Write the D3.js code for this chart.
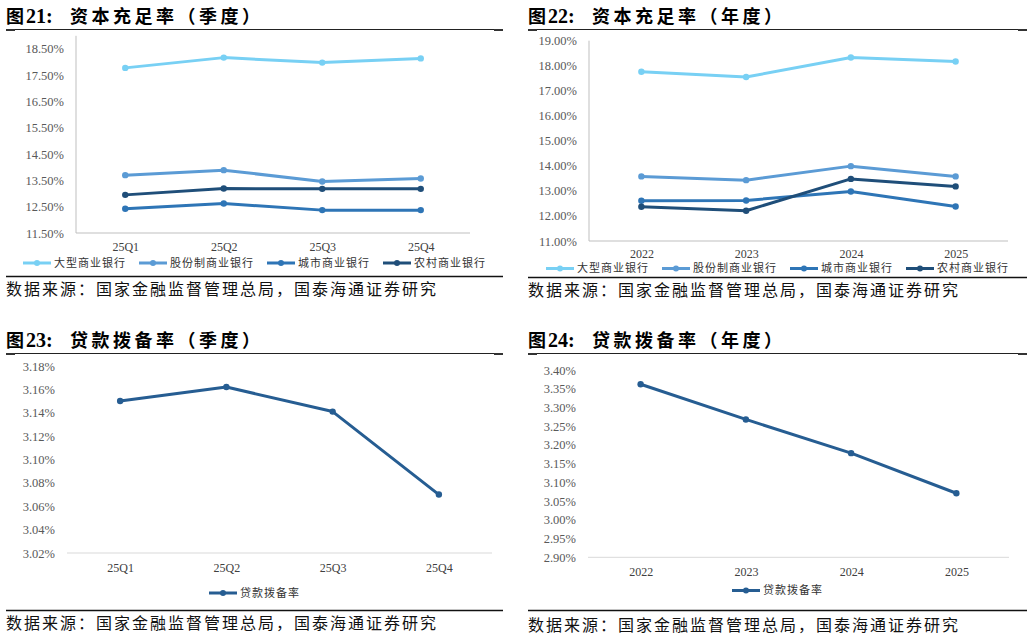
<!DOCTYPE html>
<html>
<head>
<meta charset="utf-8">
<style>
  body { margin: 0; background: #ffffff; }
  text { font-family: "Liberation Serif", "Times New Roman", serif; }
  .cn { font-family: "Noto Sans CJK SC", sans-serif; }
</style>
</head>
<body>
<svg id="workspace"></svg>

<script src="https://d3js.org/d3.v7.min.js"></script>
<script>
  const WIDTH = 1032
  const HEIGHT = 636

  // chart data
  const QUARTERS = ['25Q1', '25Q2', '25Q3', '25Q4']
  const YEARS = ['2022', '2023', '2024', '2025']
  const BANK_NAMES = ['大型商业银行', '股份制商业银行', '城市商业银行', '农村商业银行']
  const BANK_COLORS = ['#78d0f4', '#5b9bd5', '#2e75b6', '#1f4e79']

  const CAR_QUARTER_BIG = [17.78, 18.17, 17.98, 18.14]
  const CAR_QUARTER_JOINT = [13.70, 13.89, 13.46, 13.57]
  const CAR_QUARTER_CITY = [12.42, 12.62, 12.37, 12.37]
  const CAR_QUARTER_RURAL = [12.95, 13.19, 13.18, 13.18]

  const CAR_YEAR_BIG = [17.76, 17.55, 18.33, 18.17]
  const CAR_YEAR_JOINT = [13.58, 13.43, 13.99, 13.58]
  const CAR_YEAR_CITY = [12.61, 12.62, 12.98, 12.38]
  const CAR_YEAR_RURAL = [12.37, 12.21, 13.48, 13.18]

  const PROV_QUARTER = [3.15, 3.162, 3.141, 3.07]
  const PROV_YEAR = [3.362, 3.268, 3.178, 3.071]
  const PROV_NAME = '贷款拨备率'
  const PROV_COLOR = '#265d92'

  const TICKS_CAR_QUARTER = [11.5, 12.5, 13.5, 14.5, 15.5, 16.5, 17.5, 18.5]
  const TICKS_CAR_YEAR = [11, 12, 13, 14, 15, 16, 17, 18, 19]
  const TICKS_PROV_QUARTER = [3.02, 3.04, 3.06, 3.08, 3.10, 3.12, 3.14, 3.16, 3.18]
  const TICKS_PROV_YEAR = [2.90, 2.95, 3.00, 3.05, 3.10, 3.15, 3.20, 3.25, 3.30, 3.35, 3.40]

  const SOURCE = '数据来源：国家金融监督管理总局，国泰海通证券研究'

  let svg = d3.select('#workspace')
    .attr('width', WIDTH)
    .attr('height', HEIGHT)

  // panel 21
  drawPanel({
    left: 6, right: 503, titleY: 23, ruleY: 29.5,
    num: '21:', title: '资本充足率（季度）',
    plot: [76, 470, 35.8, 233], domain: [11.5, 19], ticks: TICKS_CAR_QUARTER,
    yAxisLine: true, cats: QUARTERS,
    series: [CAR_QUARTER_BIG, CAR_QUARTER_JOINT, CAR_QUARTER_CITY, CAR_QUARTER_RURAL],
    names: BANK_NAMES, colors: BANK_COLORS,
    xLabelY: 247, legendY: 263, bottomY: 276.5, sourceY: 289
  })

  // panel 22
  drawPanel({
    left: 528, right: 1027, titleY: 23, ruleY: 29.5,
    num: '22:', title: '资本充足率（年度）',
    plot: [589, 1008, 40.7, 241], domain: [11, 19], ticks: TICKS_CAR_YEAR,
    yAxisLine: true, cats: YEARS,
    series: [CAR_YEAR_BIG, CAR_YEAR_JOINT, CAR_YEAR_CITY, CAR_YEAR_RURAL],
    names: BANK_NAMES, colors: BANK_COLORS,
    xLabelY: 253.5, legendY: 268.5, bottomY: 277.5, sourceY: 290
  })

  // panel 23
  drawPanel({
    left: 6, right: 503, titleY: 347, ruleY: 353.5,
    num: '23:', title: '贷款拨备率（季度）',
    plot: [67, 492, 366, 553], domain: [3.02, 3.18], ticks: TICKS_PROV_QUARTER,
    yAxisLine: false, cats: QUARTERS,
    series: [PROV_QUARTER], names: [PROV_NAME], colors: [PROV_COLOR],
    xLabelY: 568, legendY: 593, bottomY: 610.5, sourceY: 623
  })

  // panel 24
  drawPanel({
    left: 528, right: 1027, titleY: 347, ruleY: 353.5,
    num: '24:', title: '贷款拨备率（年度）',
    plot: [588, 1009, 370, 557.3], domain: [2.9, 3.4], ticks: TICKS_PROV_YEAR,
    yAxisLine: false, cats: YEARS,
    series: [PROV_YEAR], names: [PROV_NAME], colors: [PROV_COLOR],
    xLabelY: 572, legendY: 590.5, bottomY: 610.5, sourceY: 625
  })

  // Draw one titled line chart panel
  function drawPanel(p) {
    let g = svg.append('g')
    let [x0, x1, y0, y1] = p.plot

    // title
    let title = g.append('text')
      .attr('x', p.left)
      .attr('y', p.titleY)
      .attr('font-weight', 'bold')
      .attr('fill', '#000')
    title.append('tspan').attr('class', 'cn').attr('font-size', 18).text('图')
    title.append('tspan').attr('font-size', 20).attr('dx', 2).text(p.num)
    title.append('tspan').attr('class', 'cn').attr('font-size', 18)
      .attr('x', p.left + 64).attr('letter-spacing', 3.5).text(p.title)

    // rules
    g.append('line')
      .attr('x1', p.left).attr('x2', p.right)
      .attr('y1', p.ruleY).attr('y2', p.ruleY)
      .attr('stroke', '#222').attr('stroke-width', 1)
    ;[p.left, p.right - 9].forEach(function(x) {
      g.append('rect').attr('x', x).attr('y', p.ruleY - 0.5)
        .attr('width', 9).attr('height', 2).attr('fill', '#333')
    })
    g.append('line')
      .attr('x1', p.left).attr('x2', p.right)
      .attr('y1', p.bottomY).attr('y2', p.bottomY)
      .attr('stroke', '#111').attr('stroke-width', 1.6)

    // source
    g.append('text')
      .attr('class', 'cn')
      .attr('x', p.left)
      .attr('y', p.sourceY)
      .attr('dy', '0.36em')
      .attr('font-size', 16)
      .attr('letter-spacing', 2)
      .attr('fill', '#111')
      .text(SOURCE)

    // scales
    let x = d3.scalePoint().domain(p.cats).range([x0, x1]).padding(0.5)
    let y = d3.scaleLinear().domain(p.domain).range([y1, y0])

    // y axis
    let yAxis = d3.axisLeft(y)
      .tickValues(p.ticks)
      .tickSize(0)
      .tickPadding(12)
      .tickFormat(function(d) { return d3.format('.2f')(d) + '%' })
    let ya = g.append('g').attr('transform', 'translate(' + x0 + ',0)').call(yAxis)
    ya.select('.domain').remove()
    ya.selectAll('text')
      .attr('font-family', '"Liberation Serif", serif')
      .attr('font-size', 12.5)
      .attr('fill', '#595959')
    if (p.yAxisLine) {
      g.append('line')
        .attr('x1', x0).attr('x2', x0)
        .attr('y1', y0).attr('y2', y1)
        .attr('stroke', '#bfbfbf').attr('stroke-width', 1)
    }
    g.append('line')
      .attr('x1', x0).attr('x2', x1)
      .attr('y1', y1).attr('y2', y1)
      .attr('stroke', p.yAxisLine ? '#bfbfbf' : '#d9d9d9').attr('stroke-width', 1)

    // x labels
    let xAxis = d3.axisBottom(x).tickSize(0).tickPadding(0)
    let xa = g.append('g').attr('transform', 'translate(0,' + p.xLabelY + ')').call(xAxis)
    xa.select('.domain').remove()
    xa.selectAll('text')
      .attr('y', 0)
      .attr('dy', '0.35em')
      .attr('font-family', '"Liberation Serif", serif')
      .attr('font-size', 12)
      .attr('fill', '#404040')

    // lines and markers
    let line = d3.line()
      .x(function(d, i) { return x(p.cats[i]) })
      .y(function(d) { return y(d) })
    p.series.forEach(function(vals, k) {
      g.append('path')
        .attr('d', line(vals))
        .attr('fill', 'none')
        .attr('stroke', p.colors[k])
        .attr('stroke-width', 3)
        .attr('stroke-linejoin', 'round')
      g.selectAll(null)
        .data(vals)
        .enter()
        .append('circle')
        .attr('cx', function(d, i) { return x(p.cats[i]) })
        .attr('cy', function(d) { return y(d) })
        .attr('r', 3.2)
        .attr('fill', p.colors[k])
    })

    // legend, centered on the panel
    let lg = g.append('g')
    let cursor = 0
    p.names.forEach(function(name, k) {
      let item = lg.append('g').attr('transform', 'translate(' + cursor + ',0)')
      item.append('line')
        .attr('x1', 0).attr('x2', 28)
        .attr('y1', p.legendY).attr('y2', p.legendY)
        .attr('stroke', p.colors[k]).attr('stroke-width', 3)
      item.append('circle')
        .attr('cx', 14).attr('cy', p.legendY).attr('r', 3)
        .attr('fill', p.colors[k])
      let t = item.append('text')
        .attr('class', 'cn')
        .attr('x', 31)
        .attr('y', p.legendY)
        .attr('dy', '0.36em')
        .attr('font-size', 11)
        .attr('letter-spacing', 1)
        .attr('fill', '#333')
        .text(name)
      cursor += 31 + t.node().getComputedTextLength() + 13
    })
    let total = cursor - 13
    lg.attr('transform', 'translate(' + ((p.left + p.right) / 2 - total / 2) + ',0)')
  }
</script>
</body>
</html>
